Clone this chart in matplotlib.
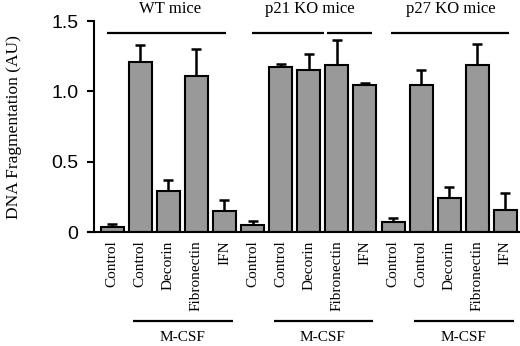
import matplotlib
matplotlib.use("Agg")
import matplotlib.pyplot as plt
import matplotlib.transforms as mtransforms
import numpy as np

categories = ["Control", "Control", "Decorin", "Fibronectin", "IFN",
              "Control", "Control", "Decorin", "Fibronectin", "IFN",
              "Control", "Control", "Decorin", "Fibronectin", "IFN"]
values = [0.035, 1.21, 0.29, 1.11, 0.15,
          0.055, 1.175, 1.15, 1.185, 1.045,
          0.075, 1.045, 0.245, 1.185, 0.16]
err_upper = [0.025, 0.12, 0.08, 0.19, 0.08,
             0.025, 0.02, 0.115, 0.18, 0.015,
             0.025, 0.11, 0.075, 0.15, 0.12]
group_titles = ["WT mice", "p21 KO mice", "p27 KO mice"]
treatment_label = "M-CSF"
yticks = [0, 0.5, 1.0, 1.5]
yticklabels = ["0", "0.5", "1.0", "1.5"]

serif = "Liberation Serif"
sans = "Liberation Sans"

fig = plt.figure(figsize=(5.2, 3.46), dpi=100)
ax = fig.add_axes([0.18, 0.3286, 0.82, 0.6107])

x = np.arange(len(values))
ax.bar(x, values, width=0.82, color="#999999", edgecolor="black", linewidth=1.5, zorder=2)
ax.errorbar(x, values, yerr=[np.zeros(len(values)), err_upper], fmt="none",
            ecolor="black", elinewidth=1.8, capsize=3.6, capthick=1.8, zorder=1)

ax.set_xlim(-0.66, 14.52)
ax.set_ylim(0, 1.5)
ax.set_yticks(yticks)
ax.set_yticklabels(yticklabels, fontfamily=sans, fontsize=14)
ax.set_xticks(x)
ax.set_xticklabels(categories, rotation=90, fontfamily=serif, fontsize=11, va="top")
ax.tick_params(axis="x", length=0, pad=6)
ax.tick_params(axis="y", direction="out", length=5, width=1.5, pad=6)
for s in ["top", "right"]:
    ax.spines[s].set_visible(False)
ax.spines["left"].set_linewidth(1.5)
ax.spines["bottom"].set_linewidth(1.5)
ax.spines["bottom"].set_bounds(-0.85, 14.52)

ax.set_ylabel("DNA Fragmentation (AU)", fontfamily=serif, fontsize=12.5, labelpad=21)

# top group lines
top_y = 1.415
top_segments = [(-0.18, 4.06), (4.98, 7.54), (7.65, 9.25), (9.93, 14.13)]
for a, b in top_segments:
    ax.plot([a, b], [top_y, top_y], color="black", lw=1.6, clip_on=False, solid_capstyle="butt")

trans = mtransforms.blended_transform_factory(ax.transData, ax.transAxes)
for g, title in enumerate(group_titles):
    ax.text(g * 5 + 2.05, 1.057, title, transform=trans, ha="center", va="center",
            fontfamily=serif, fontsize=12)
    a, b = g * 5 + 1 - 0.25, g * 5 + 4 + 0.3
    ax.plot([a, b], [-0.42, -0.42], transform=trans, color="black", lw=1.6,
            clip_on=False, solid_capstyle="butt")
    ax.text(g * 5 + 2.5, -0.50, treatment_label, transform=trans, ha="center", va="center",
            fontfamily=serif, fontsize=11)

fig.savefig("out.png", dpi=100)
